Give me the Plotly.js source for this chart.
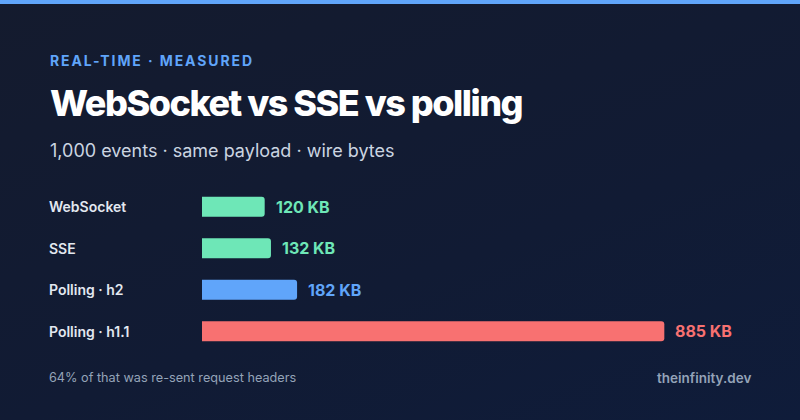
<!DOCTYPE html>
<html>
<head>
<meta charset="utf-8">
<script src="https://cdn.plot.ly/plotly-3.0.1.min.js"></script>
<style>
  html, body { margin: 0; padding: 0; }
  body { width: 800px; height: 420px; overflow: hidden;
         background: linear-gradient(160deg, #141b2e 0%, #111b34 60%, #0f1c3a 100%); }
  #topbar { position: absolute; left: 0; top: 0; width: 800px; height: 4px; background: #60a5fa; z-index: 2; }
  #chart { position: absolute; left: 0; top: 0; width: 800px; height: 420px; }
</style>
</head>
<body>
<div id="topbar"></div>
<div id="chart"></div>
<script>
// ---- data ----
const categories = ['WebSocket', 'SSE', 'Polling · h2', 'Polling · h1.1'];
const valuesKB = [120, 132, 182, 885];
const unit = 'KB';
const eyebrowText = 'REAL-TIME · MEASURED';
const titleText = 'WebSocket vs SSE vs polling';
const subtitleText = '1,000 events · same payload · wire bytes';
const footnoteText = '64% of that was re-sent request headers';
const creditText = 'theinfinity.dev';

// ---- styles ----
const barColors = ['#6ee7b7', '#6ee7b7', '#60a5fa', '#f87171'];
const FONT = 'Inter, "Noto Sans", sans-serif';
const W = 800, H = 420;
const M = { l: 202, r: 48, t: 186, b: 68 };
const plotW = W - M.l - M.r, plotH = H - M.t - M.b;
const pxPerKB = 0.5224;
const xMax = plotW / pxPerKB;

const px = x => (x - M.l) / plotW;
const py = y => (H - M.b - y) / plotH;

const bar = {
  type: 'bar',
  orientation: 'h',
  y: categories,
  x: valuesKB,
  marker: { color: barColors, cornerradius: 3, line: { width: 0 } },
  hoverinfo: 'skip'
};

const annotations = [];
// header texts
annotations.push({ xref: 'paper', yref: 'paper', x: px(48), y: py(60.5), xanchor: 'left', yanchor: 'middle',
  text: eyebrowText, showarrow: false, font: { family: FONT, size: 14, color: '#60a5fa', weight: 700 } });
annotations.push({ xref: 'paper', yref: 'paper', x: px(48), y: py(103), xanchor: 'left', yanchor: 'middle',
  text: titleText, showarrow: false, font: { family: FONT, size: 36, color: '#ffffff', weight: 800 } });
annotations.push({ xref: 'paper', yref: 'paper', x: px(48), y: py(150.5), xanchor: 'left', yanchor: 'middle',
  text: subtitleText, showarrow: false, font: { family: FONT, size: 18, color: '#cbd5e1', weight: 400 } });
// category labels and values
categories.forEach((c, i) => {
  annotations.push({ xref: 'paper', yref: 'y', x: px(47), y: c, xanchor: 'left', yanchor: 'middle',
    text: c, showarrow: false, font: { family: FONT, size: 14, color: '#e2e8f0', weight: 600 } });
  annotations.push({ xref: 'x', yref: 'y', x: valuesKB[i], y: c, xanchor: 'left', yanchor: 'middle', xshift: 9,
    text: valuesKB[i] + ' ' + unit, showarrow: false, font: { family: FONT, size: 16, color: barColors[i], weight: 700 } });
});
// footer
annotations.push({ xref: 'paper', yref: 'paper', x: px(47), y: py(377.7), xanchor: 'left', yanchor: 'middle',
  text: footnoteText, showarrow: false, font: { family: FONT, size: 12.7, color: '#94a3b8', weight: 400 } });
annotations.push({ xref: 'paper', yref: 'paper', x: px(753), y: py(378), xanchor: 'right', yanchor: 'middle',
  text: creditText, showarrow: false, font: { family: FONT, size: 13.5, color: '#94a3b8', weight: 600 } });

const layout = {
  width: W, height: H,
  margin: M,
  paper_bgcolor: 'rgba(0,0,0,0)',
  plot_bgcolor: 'rgba(0,0,0,0)',
  showlegend: false,
  bargap: 1 - 20 / (plotH / 4),
  xaxis: { range: [0, xMax], visible: false, fixedrange: true },
  yaxis: { categoryorder: 'array', categoryarray: categories, range: [3.5, -0.5],
           showticklabels: false, showgrid: false, zeroline: false, showline: false, fixedrange: true },
  annotations: annotations,
  font: { family: FONT }
};

// apply letter-spacing while keeping the left edge in place
function track(text, spacing) {
  document.querySelectorAll('.annotation-text').forEach(t => {
    if (t.textContent !== text) return;
    const b1 = t.getBBox();
    t.setAttribute('letter-spacing', spacing + 'px');
    const b2 = t.getBBox();
    const x0 = parseFloat(t.getAttribute('x')) || 0;
    t.setAttribute('x', x0 + (b1.x - b2.x));
  });
}

Plotly.newPlot('chart', [bar], layout, { displayModeBar: false, staticPlot: true }).then(() => {
  track(eyebrowText, 1.9);
  track(titleText, -1.5);
});
</script>
</body>
</html>
